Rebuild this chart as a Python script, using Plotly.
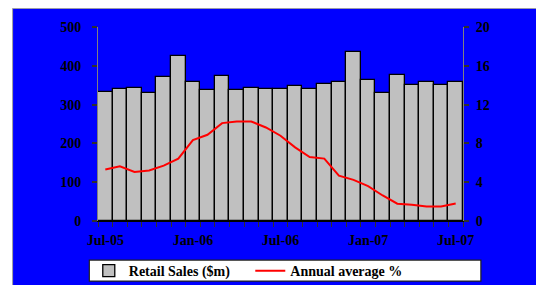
import plotly.graph_objects as go

months = ["Jul-05", "Aug-05", "Sep-05", "Oct-05", "Nov-05", "Dec-05",
          "Jan-06", "Feb-06", "Mar-06", "Apr-06", "May-06", "Jun-06",
          "Jul-06", "Aug-06", "Sep-06", "Oct-06", "Nov-06", "Dec-06",
          "Jan-07", "Feb-07", "Mar-07", "Apr-07", "May-07", "Jun-07", "Jul-07"]
labelled_months = ["Jul-05", "Jan-06", "Jul-06", "Jan-07", "Jul-07"]
retail_sales = [333, 340, 343, 330, 371, 425, 358, 337, 374, 337, 343, 340, 340,
                347, 340, 353, 358, 436, 364, 330, 377, 350, 358, 350, 358]
annual_average = [5.30, 5.64, 5.06, 5.20, 5.71, 6.43, 8.34, 8.89, 10.09, 10.26, 10.26,
                  9.64, 8.79, 7.59, 6.60, 6.43, 4.68, 4.24, 3.59, 2.63, 1.78, 1.68,
                  1.50, 1.50, 1.81]
left_ticks = [0, 100, 200, 300, 400, 500]
right_ticks = [0, 4, 8, 12, 16, 20]

FONT = dict(family="Liberation Serif", size=14, color="black", weight="bold")
TICKC = "#303030"

fig = go.Figure()
fig.add_trace(go.Bar(x=months, y=retail_sales, name="Retail Sales ($m)",
                     marker=dict(color="#C0C0C0", line=dict(color="black", width=1.3)),
                     yaxis="y"))
fig.add_trace(go.Scatter(x=months, y=annual_average, name="Annual average %",
                         mode="lines", line=dict(color="#FF0000", width=2),
                         yaxis="y2"))

ticktext = [m if m in labelled_months else "" for m in months]

fig.update_layout(
    template="none",
    width=544, height=285,
    margin=dict(l=90, r=89, t=19, b=71.5, autoexpand=False),
    paper_bgcolor="white", plot_bgcolor="white",
    font=FONT,
    bargap=0,
    showlegend=True,
    legend=dict(orientation="h", xref="container", yref="container",
                x=0.1485, xanchor="left", y=0.077, yanchor="middle",
                bgcolor="rgba(0,0,0,0)", borderwidth=0, font=FONT,
                entrywidth=116.5, itemwidth=30, traceorder="normal"),
    xaxis=dict(type="category", range=[-0.5, len(months) - 0.5], automargin=False,
               tickvals=months, ticktext=ticktext, tickson="boundaries",
               ticks="outside", ticklen=5, tickwidth=1.3, tickcolor=TICKC,
               showline=True, linecolor="black", linewidth=1,
               showgrid=False, tickangle=0, ticklabelstandoff=6, tickfont=FONT),
    yaxis=dict(range=[0, 500], tickvals=left_ticks, ticks="outside", ticklen=5,
               tickwidth=1.5, tickcolor=TICKC, showline=True, linecolor="#808080",
               linewidth=1, showgrid=False, zeroline=False, tickfont=FONT,
               ticklabelstandoff=8, automargin=False),
    yaxis2=dict(range=[0, 20], tickvals=right_ticks, overlaying="y", side="right",
                ticks="outside", ticklen=5, tickwidth=1.5, tickcolor=TICKC,
                showline=True, linecolor="#808080", linewidth=1, showgrid=False,
                zeroline=False, tickfont=FONT, ticklabelstandoff=4, automargin=False),
    yaxis3=dict(range=[0, 500], tickvals=left_ticks, overlaying="y", side="left",
                ticks="inside", ticklen=5, tickwidth=1.5, tickcolor=TICKC,
                showticklabels=False, showline=False, showgrid=False, zeroline=False,
                automargin=False),
    yaxis4=dict(range=[0, 20], tickvals=right_ticks, overlaying="y", side="right",
                ticks="inside", ticklen=5, tickwidth=1.5, tickcolor=TICKC,
                showticklabels=False, showline=False, showgrid=False, zeroline=False,
                automargin=False),
    shapes=[
        dict(type="rect", xref="paper", yref="paper", x0=-0.234, x1=1.3,
             y0=-0.45, y1=1.096, fillcolor="#0000FF",
             line=dict(color="#A0A0A0", width=1), layer="below"),
        dict(type="rect", xref="paper", yref="paper", x0=-0.0238, x1=1.049,
             y0=-0.3095, y1=-0.2015, fillcolor="white",
             line=dict(color="#202020", width=1.2), layer="below"),
    ],
)

fig.write_html("out.html")
